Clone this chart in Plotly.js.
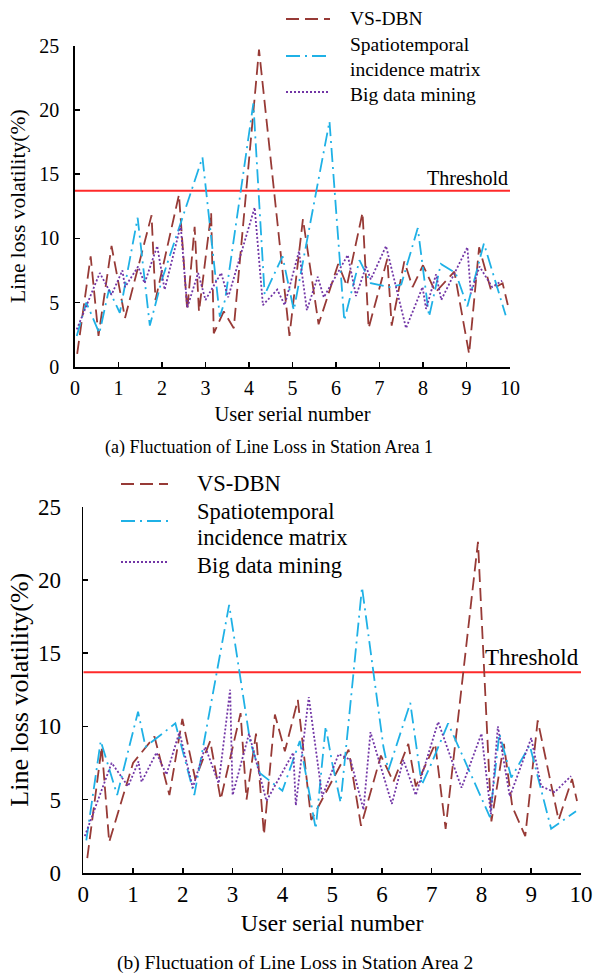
<!DOCTYPE html>
<html>
<head>
<meta charset="utf-8">
<script src="https://cdn.plot.ly/plotly-3.0.1.min.js"></script>
<style>html,body{margin:0;padding:0;background:#fff;}#chart{width:599px;height:974px;}</style>
</head>
<body>
<div id="chart"></div>
<script>
// ---- Data (Station Area 1) ----
const area1_vsdbn_x = [0.05,0.36,0.54,0.84,1.15,1.76,1.85,2.39,2.58,2.75,2.85,3.13,3.19,3.42,3.65,4.23,4.93,5.24,5.60,6.05,6.25,6.61,6.75,7.18,7.28,7.57,7.76,8.00,8.29,8.72,9.06,9.29,9.56,9.83,9.95];
const area1_vsdbn_y = [1.0,8.6,2.4,9.4,3.8,11.8,5.2,13.4,4.4,10.9,4.3,12.0,2.6,4.3,3.0,24.7,2.4,11.5,3.3,8.0,6.3,12.0,3.0,8.4,3.2,8.2,6.2,7.9,5.8,7.4,1.0,9.3,6.0,6.5,4.8];
const area1_stim_x = [0.04,0.26,0.56,0.78,1.03,1.44,1.72,2.0,2.93,3.33,3.45,4.1,4.36,4.77,5.03,5.85,6.19,6.54,6.80,7.22,7.5,7.88,8.14,8.41,8.75,9.02,9.40,9.90];
const area1_stim_y = [2.4,5.0,2.6,6.0,4.2,11.6,3.2,6.8,16.3,3.9,5.2,20.5,5.6,8.6,4.4,19.1,3.6,8.3,6.5,6.2,6.4,10.8,3.9,8.0,7.3,4.7,9.6,4.0];
const area1_bdm_x = [0.04,0.57,0.84,1.09,1.15,1.45,1.6,1.89,2.06,2.43,2.58,2.83,3.0,3.36,3.52,4.13,4.32,4.65,4.82,5.15,5.33,5.58,5.72,6.27,6.46,6.69,6.8,7.15,7.61,7.99,8.07,8.3,8.42,9.02,9.1,9.3,9.59,9.82];
const area1_bdm_y = [2.9,7.3,5.6,7.5,6.2,7.8,6.5,9.4,6.0,11.0,4.6,7.3,5.2,7.3,5.4,12.4,4.8,6.0,4.8,9.0,4.4,7.0,5.4,8.7,5.5,7.8,6.8,9.4,3.0,6.2,4.5,7.2,5.2,9.3,5.7,7.8,6.2,6.7];

// ---- Data (Station Area 2) ----
const area2_vsdbn_x = [0.08,0.37,0.52,1.0,1.43,1.73,1.99,2.25,2.55,2.76,3.16,3.28,3.47,3.63,3.85,4.05,4.31,4.58,5.33,5.58,5.98,6.23,6.53,6.68,7.07,7.28,7.93,8.2,8.45,8.62,8.88,9.13,9.55,9.82,9.92];
const area2_vsdbn_y = [1.0,8.6,2.1,7.5,9.3,5.3,10.5,6.4,9.0,5.0,10.9,5.0,9.5,2.6,10.8,8.3,11.8,3.6,8.4,3.2,8.0,6.2,8.8,5.9,8.8,3.0,22.6,3.5,8.8,4.5,2.5,10.4,3.6,6.4,4.9];
const area2_stim_x = [0.06,0.35,0.68,1.1,1.25,1.85,2.23,2.93,3.35,3.55,4.0,4.35,4.67,4.87,5.0,5.17,5.6,6.03,6.13,6.57,6.8,7.0,7.33,8.17,8.36,8.6,8.97,9.4,9.9];
const area2_stim_y = [2.2,9.0,5.3,11.0,8.6,10.2,5.3,18.3,9.0,6.8,5.6,9.0,3.0,10.0,7.5,4.8,19.5,8.6,7.0,11.6,6.0,7.5,10.2,3.8,9.5,6.5,8.7,3.0,4.2];
const area2_bdm_x = [0.03,0.57,0.9,1.11,1.17,1.47,1.67,1.93,2.2,2.45,2.72,2.95,3.0,3.33,3.68,4.22,4.27,4.53,4.8,5.13,5.37,5.63,5.77,6.2,6.43,6.68,7.13,7.6,8.0,8.19,8.33,8.57,9.0,9.2,9.47,9.8];
const area2_bdm_y = [2.5,7.5,5.9,7.6,6.2,8.2,6.7,9.6,5.8,8.6,6.1,12.5,5.3,9.5,4.9,8.2,4.6,12.0,5.2,8.1,7.7,4.3,9.6,4.7,7.7,5.3,10.3,5.8,9.5,4.0,10.0,5.2,9.2,5.9,5.5,6.6];

const thresholdValue = 13.7;
const thresholdX = [0, 10];
const seriesNames = ["VS-DBN", "Spatiotemporal incidence matrix", "Big data mining"];
const xTicks = [0,1,2,3,4,5,6,7,8,9,10];
const yTicks = [0,5,10,15,20,25];
const captions = ["(a) Fluctuation of Line Loss in Station Area 1", "(b) Fluctuation of Line Loss in Station Area 2"];

// ---- Styles ----
const FONT = 'Liberation Serif, Times New Roman, serif';
const C_BROWN = '#973a36', C_BLUE = '#1fb1e6', C_PURPLE = '#7236a6', C_RED = '#ff2a2a';
const styles = [
  {color: C_BROWN, width: 1.8, dash: '13px,6px'},
  {color: C_BLUE, width: 1.8, dash: '14px,5px,2px,5px'},
  {color: C_PURPLE, width: 1.8, dash: '2px,2px'}
];

function tr(x, y, i, xa, ya) {
  return {x: x, y: y, type: 'scatter', mode: 'lines', name: seriesNames[i],
    line: styles[i], xaxis: xa, yaxis: ya, showlegend: false, hoverinfo: 'skip'};
}
function thr(xa, ya) {
  return {x: thresholdX, y: thresholdX.map(() => thresholdValue), type: 'scatter', mode: 'lines',
    name: 'Threshold', line: {color: C_RED, width: 2}, xaxis: xa, yaxis: ya, showlegend: false, hoverinfo: 'skip'};
}

const traces = [
  thr('x', 'y'),
  tr(area1_vsdbn_x, area1_vsdbn_y, 0, 'x', 'y'),
  tr(area1_stim_x, area1_stim_y, 1, 'x', 'y'),
  tr(area1_bdm_x, area1_bdm_y, 2, 'x', 'y'),
  thr('x2', 'y2'),
  tr(area2_vsdbn_x, area2_vsdbn_y, 0, 'x2', 'y2'),
  tr(area2_stim_x, area2_stim_y, 1, 'x2', 'y2'),
  tr(area2_bdm_x, area2_bdm_y, 2, 'x2', 'y2')
];

const W = 599, H = 974;
const px = v => v / W, py = v => 1 - v / H;

function xAxis(domain, anchor, fs, tfs, standoff, lstand) {
  return {domain: domain, anchor: anchor, range: [0, 10], tickvals: xTicks, ticktext: xTicks.map(String),
    ticks: 'inside', ticklen: 5, tickwidth: 1.5, tickcolor: '#000', showline: true, linecolor: '#000', linewidth: 1.8,
    showgrid: false, zeroline: false, ticklabelstandoff: lstand, tickfont: {family: FONT, size: fs, color: '#000'},
    title: {text: 'User serial number', font: {family: FONT, size: tfs, color: '#000'}, standoff: standoff}};
}
function yAxis(domain, anchor, fs, tfs, standoff, lstand) {
  return {domain: domain, anchor: anchor, range: [0, 25], tickvals: yTicks, ticktext: yTicks.map(String),
    ticks: 'inside', ticklen: 5, tickwidth: 1.5, tickcolor: '#000', showline: true, linecolor: '#000', linewidth: 1.8,
    showgrid: false, zeroline: false, ticklabelstandoff: lstand, tickfont: {family: FONT, size: fs, color: '#000'},
    title: {text: 'Line loss volatility(%)', font: {family: FONT, size: tfs, color: '#000'}, standoff: standoff}};
}

function legendBlock(x0, x1, tx, rows, fs) {
  const shapes = [], ann = [];
  rows.lines.forEach((ly, i) => {
    shapes.push({type: 'line', xref: 'paper', yref: 'paper', x0: px(x0), x1: px(x1), y0: py(ly), y1: py(ly),
      line: {color: styles[i].color, width: styles[i].width, dash: styles[i].dash}});
  });
  rows.texts.forEach(t => {
    ann.push({xref: 'paper', yref: 'paper', x: px(tx), y: py(t[1]), xanchor: 'left', yanchor: 'middle',
      text: t[0], showarrow: false, font: {family: FONT, size: fs, color: '#000'}});
  });
  return {shapes, ann};
}

const leg1 = legendBlock(286, 330, 348, {lines: [19, 56, 92],
  texts: [['VS-DBN', 19], ['Spatiotemporal', 45], ['incidence matrix', 69], ['Big data mining', 94]]}, 19.5);
const leg2 = legendBlock(121, 168, 195, {lines: [484, 521, 562],
  texts: [['VS-DBN', 484], ['Spatiotemporal', 511], ['incidence matrix', 537], ['Big data mining', 565]]}, 22.5);

const annotations = [
  ...leg1.ann, ...leg2.ann,
  {xref: 'x', yref: 'y', x: 10, y: thresholdValue, xanchor: 'right', yanchor: 'bottom', yshift: 0,
    text: 'Threshold', showarrow: false, font: {family: FONT, size: 20, color: '#000'}},
  {xref: 'x2', yref: 'y2', x: 10, y: thresholdValue, xanchor: 'right', yanchor: 'bottom', yshift: 0,
    text: 'Threshold', showarrow: false, font: {family: FONT, size: 23, color: '#000'}},
  {xref: 'paper', yref: 'paper', x: px(269), y: py(447), xanchor: 'center', yanchor: 'middle',
    text: captions[0], showarrow: false, font: {family: FONT, size: 18, color: '#000'}},
  {xref: 'paper', yref: 'paper', x: px(295), y: py(963), xanchor: 'center', yanchor: 'middle',
    text: captions[1], showarrow: false, font: {family: FONT, size: 19.5, color: '#000'}}
];

const layout = {
  width: W, height: H, margin: {l: 0, r: 0, t: 0, b: 0},
  paper_bgcolor: '#fff', plot_bgcolor: 'rgba(0,0,0,0)', showlegend: false,
  xaxis: xAxis([75 / W, 510 / W], 'y', 20, 20.5, 9, 2),
  yaxis: yAxis([py(366.7), py(45.7)], 'x', 20, 21.5, 8, 10),
  xaxis2: xAxis([83.3 / W, 581 / W], 'y2', 23, 24, 8, 0),
  yaxis2: yAxis([py(872.7), py(506.7)], 'x2', 23, 26, 2, 16),
  shapes: [...leg1.shapes, ...leg2.shapes],
  annotations: annotations
};

Plotly.newPlot('chart', traces, layout, {displayModeBar: false, staticPlot: true});
</script>
</body>
</html>
